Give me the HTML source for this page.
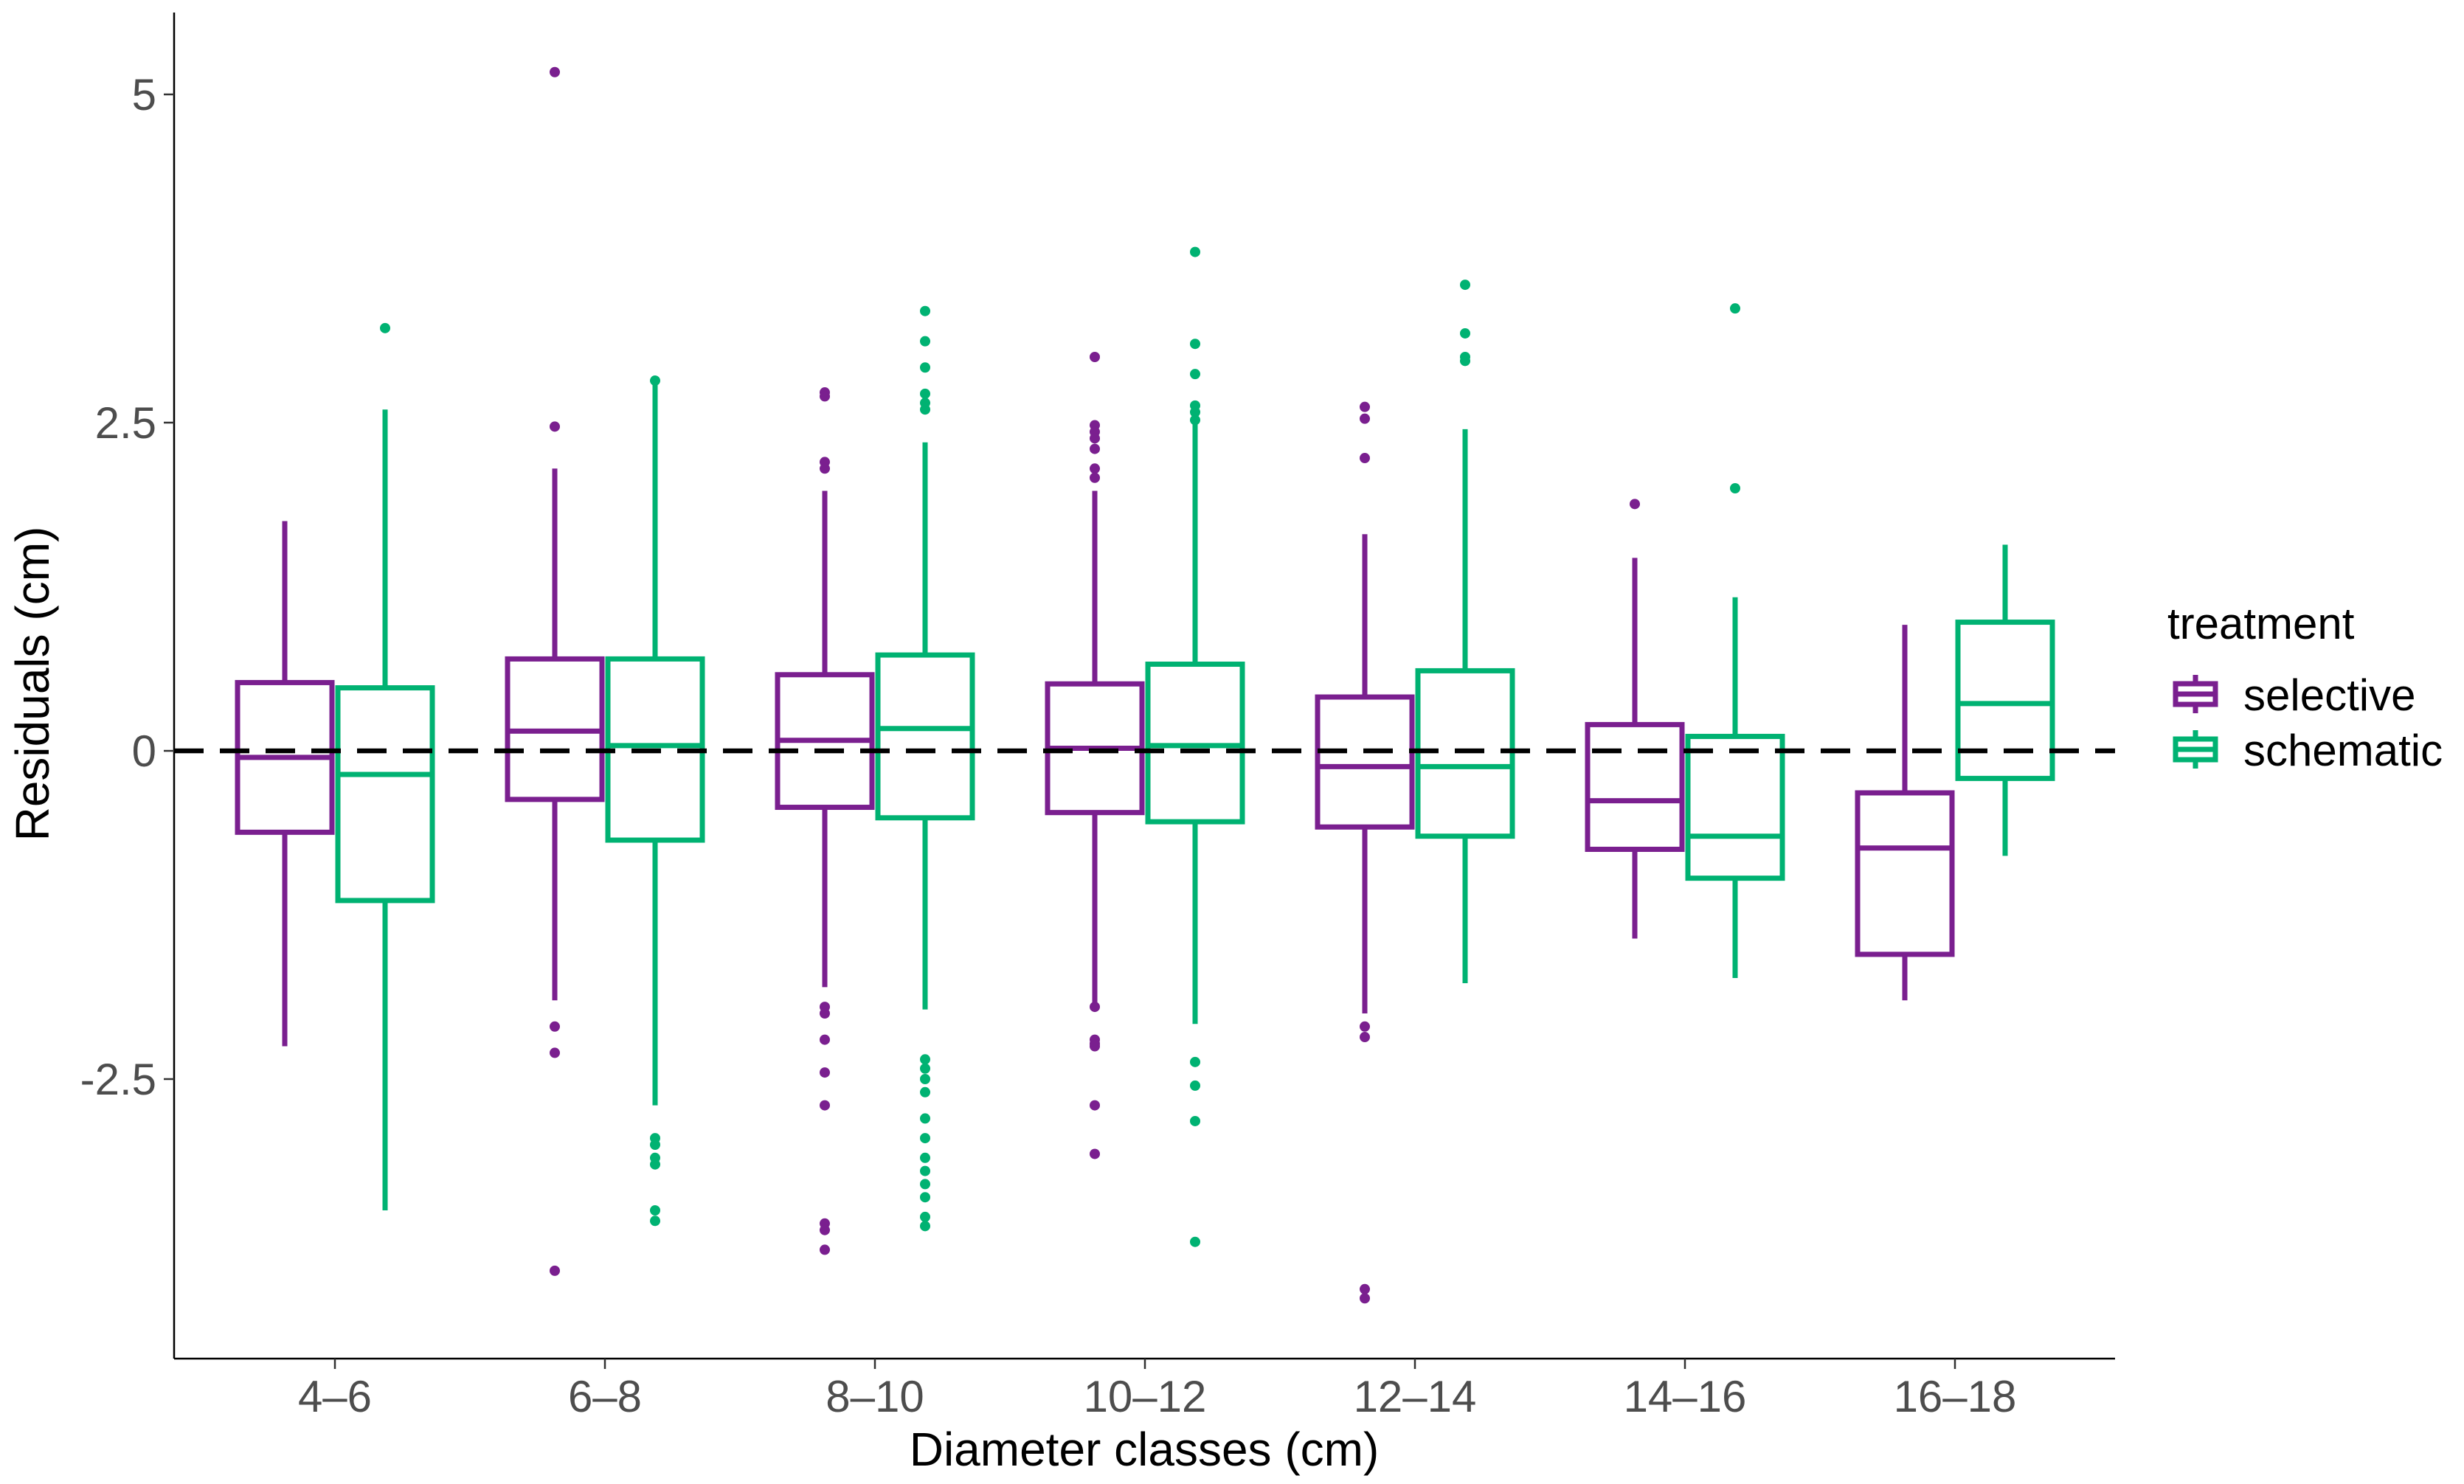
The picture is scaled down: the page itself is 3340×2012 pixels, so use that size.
<!DOCTYPE html>
<html><head><meta charset="utf-8"><style>
html,body{margin:0;padding:0;background:#fff}
svg{display:block}
text{font-family:"Liberation Sans",sans-serif}
</style></head><body>
<svg id="chart" width="3340" height="2012" viewBox="0 0 3340 2012" xmlns="http://www.w3.org/2000/svg">
<g id="plot"></g>
</svg>
<script>
const categories=["4–6","6–8","8–10","10–12","12–14","14–16","16–18"];
const selLow=[-2.25,-1.9,-1.8,-1.93,-2.0,-1.43,-1.9];
const selQ1=[-0.62,-0.37,-0.43,-0.47,-0.58,-0.75,-1.55];
const selMed=[-0.05,0.15,0.08,0.02,-0.12,-0.38,-0.74];
const selQ3=[0.52,0.7,0.58,0.51,0.41,0.2,-0.32];
const selHigh=[1.75,2.15,1.98,1.98,1.65,1.47,0.96];
const selOut=[[],[5.17,2.47,-2.1,-2.3,-3.96],[2.73,2.7,2.2,2.15,-1.95,-2.0,-2.2,-2.45,-2.7,-3.6,-3.65,-3.8],[3.0,2.48,2.43,2.38,2.3,2.15,2.08,-1.95,-2.2,-2.23,-2.25,-2.7,-3.07],[2.62,2.53,2.23,-2.1,-2.18,-4.1,-4.17],[1.88],[]];
const schLow=[-3.5,-2.7,-1.97,-2.08,-1.77,-1.73,-0.8];
const schQ1=[-1.14,-0.68,-0.51,-0.54,-0.65,-0.97,-0.21];
const schMed=[-0.18,0.04,0.17,0.04,-0.12,-0.65,0.36];
const schQ3=[0.48,0.7,0.73,0.66,0.61,0.11,0.98];
const schHigh=[2.6,2.8,2.35,2.5,2.45,1.17,1.57];
const schOut=[[3.22],[2.82,-2.95,-3.0,-3.1,-3.15,-3.5,-3.58],[3.35,3.12,2.92,2.72,2.65,2.6,-2.35,-2.42,-2.5,-2.6,-2.8,-2.95,-3.1,-3.2,-3.3,-3.4,-3.55,-3.62],[3.8,3.1,2.87,2.63,2.58,2.52,-2.37,-2.55,-2.82,-3.74],[3.55,3.18,3.0,2.97],[3.37,2.0],[]];
const yTicks=[-2.5,0,2.5,5];
const yTickLabels=["-2.5","0","2.5","5"];

const NS="http://www.w3.org/2000/svg";
const X0=236,X1=2867,YT=17,YB=1842;
const y=v=>1018-v*178;
const x=i=>454+i*366;
const g=document.getElementById('plot');
function el(t,a,p){const e=document.createElementNS(NS,t);for(const k in a)e.setAttribute(k,a[k]);(p||g).appendChild(e);return e;}
const PURPLE="#7a1f8f",GREEN="#00b272";

let e=el('line',{x1:X0,y1:YT,x2:X0,y2:YB,stroke:'#000','stroke-width':2.5});


e=el('line',{x1:X0,y1:YB,x2:X1,y2:YB,stroke:'#000','stroke-width':2.5});


yTicks.forEach((v,i)=>{
 let t=el('line',{x1:X0-14,x2:X0,y1:y(v),y2:y(v),stroke:'#333','stroke-width':2.5});
 
 
 let l=el('text',{x:X0-24,y:y(v)+21,'text-anchor':'end','font-size':60,fill:'#4d4d4d'});
 l.textContent=yTickLabels[i];
 
 
});
categories.forEach((c,i)=>{
 let t=el('line',{x1:x(i),x2:x(i),y1:YB,y2:YB+14,stroke:'#333','stroke-width':2.5});
 
 
 let l=el('text',{x:x(i),y:1914,'text-anchor':'middle','font-size':60,fill:'#4d4d4d'});
 l.textContent=c;
 
 
});

function box(i,off,col,lo,q1,md,q3,hi,out,name){
 const cx=x(i)+off,hw=64;
 const gg=el('g',{});
 
 
 el('line',{x1:cx,x2:cx,y1:y(hi),y2:y(q3),stroke:col,'stroke-width':7},gg);
 el('line',{x1:cx,x2:cx,y1:y(q1),y2:y(lo),stroke:col,'stroke-width':7},gg);
 el('rect',{x:cx-hw,y:y(q3),width:2*hw,height:y(q1)-y(q3),fill:'#fff',stroke:col,'stroke-width':7},gg);
 el('line',{x1:cx-hw,x2:cx+hw,y1:y(md),y2:y(md),stroke:col,'stroke-width':7},gg);
 out.forEach(v=>{el('circle',{cx:cx,cy:y(v),r:7,fill:col},gg);});
}
categories.forEach((c,i)=>{
 box(i,-68,PURPLE,selLow[i],selQ1[i],selMed[i],selQ3[i],selHigh[i],selOut[i],'selective');
 box(i,68,GREEN,schLow[i],schQ1[i],schMed[i],schQ3[i],schHigh[i],schOut[i],'schematic');
});
e=el('line',{x1:X0,x2:X1,y1:y(0),y2:y(0),stroke:'#000','stroke-width':6.5,'stroke-dasharray':'40 22'});


</script>
<svg style="position:absolute;left:0;top:0" width="3340" height="2012">
<text x="1551" y="1987" text-anchor="middle" font-size="64" fill="#000">Diameter classes (cm)</text>
<text transform="translate(66,927) rotate(-90)" text-anchor="middle" font-size="64" fill="#000">Residuals (cm)</text>
<text x="2938" y="866" font-size="60" fill="#000">treatment</text>
<g>
<line x1="2976" x2="2976" y1="915" y2="967" stroke="#7a1f8f" stroke-width="7"/>
<rect x="2949" y="927" width="54" height="28" fill="#fff" stroke="#7a1f8f" stroke-width="7"/>
<line x1="2949" x2="3003" y1="941" y2="941" stroke="#7a1f8f" stroke-width="7"/>
<text x="3041" y="963" font-size="60" fill="#000">selective</text>
</g>
<g>
<line x1="2976" x2="2976" y1="990" y2="1042" stroke="#00b272" stroke-width="7"/>
<rect x="2949" y="1002" width="54" height="28" fill="#fff" stroke="#00b272" stroke-width="7"/>
<line x1="2949" x2="3003" y1="1016" y2="1016" stroke="#00b272" stroke-width="7"/>
<text x="3041" y="1038" font-size="60" fill="#000">schematic</text>
</g>
</svg>
</body></html>
